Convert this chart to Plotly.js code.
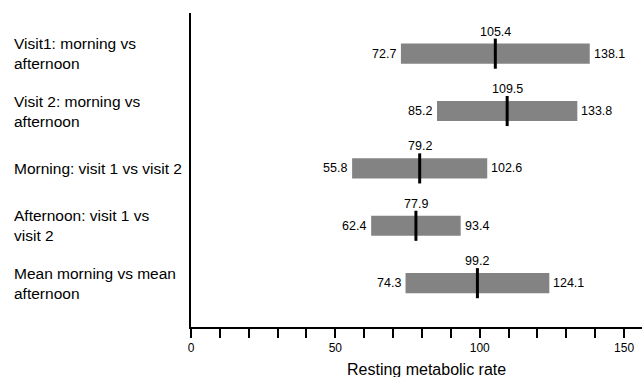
<!DOCTYPE html>
<html>
<head>
<meta charset="utf-8">
<script src="https://cdn.plot.ly/plotly-3.0.1.min.js"></script>
<style>html,body{margin:0;padding:0;background:#fff;}#chart{width:642px;height:377px;}</style>
</head>
<body>
<div id="chart"></div>
<script>
const categories = [
  "Visit1: morning vs<br>afternoon",
  "Visit 2: morning vs<br>afternoon",
  "Morning: visit 1 vs visit 2",
  "Afternoon: visit 1 vs<br>visit 2",
  "Mean morning vs mean<br>afternoon"
];
const lowValues = [72.7, 85.2, 55.8, 62.4, 74.3];
const highValues = [138.1, 133.8, 102.6, 93.4, 124.1];
const midValues = [105.4, 109.5, 79.2, 77.9, 99.2];
const xTickVals = [0, 50, 100, 150];
const xTickText = ["0", "50", "100", "150"];
const axisTitle = "Resting metabolic rate";

const FONT = "Liberation Sans, Arial, sans-serif";
const ids = categories.map((c, i) => i);

const bars = {
  type: "bar",
  orientation: "h",
  y: ids,
  x: highValues.map((h, i) => h - lowValues[i]),
  base: lowValues,
  width: 0.35,
  marker: {color: "#838383", line: {width: 0}},
  hoverinfo: "skip"
};
const mids = {
  type: "scatter",
  mode: "markers",
  y: ids,
  x: midValues,
  marker: {symbol: "line-ns", size: 21.5, line: {width: 3, color: "#000"}, color: "#000"},
  hoverinfo: "skip"
};

const annotations = [];
categories.forEach((c, i) => {
  annotations.push({xref: "paper", yref: "y", x: (12 - 191) / 451, y: i, xanchor: "left", yanchor: "middle",
    align: "left", text: c, showarrow: false, font: {family: FONT, size: 15.5, color: "#000"}});
  annotations.push({xref: "x", yref: "y", x: lowValues[i], y: i, xanchor: "right", yanchor: "middle",
    xshift: -3, text: lowValues[i].toFixed(1), showarrow: false, font: {family: FONT, size: 12.5, color: "#000"}});
  annotations.push({xref: "x", yref: "y", x: highValues[i], y: i, xanchor: "left", yanchor: "middle",
    xshift: 2, text: highValues[i].toFixed(1), showarrow: false, font: {family: FONT, size: 12.5, color: "#000"}});
  annotations.push({xref: "x", yref: "y", x: midValues[i], y: i, xanchor: "center", yanchor: "middle",
    yshift: 22, text: midValues[i].toFixed(1), showarrow: false, font: {family: FONT, size: 12.5, color: "#000"}});
});
annotations.push({xref: "paper", yref: "paper", x: (426 - 191) / 451, y: -42 / 314, xanchor: "center", yanchor: "middle",
  text: axisTitle, showarrow: false, font: {family: FONT, size: 16, color: "#000"}});

const layout = {
  width: 642, height: 377,
  margin: {l: 191, r: 0, t: 13, b: 50},
  paper_bgcolor: "#fff", plot_bgcolor: "#fff",
  showlegend: false,
  font: {family: FONT, color: "#000"},
  xaxis: {
    range: [0, 156.2], showgrid: false, zeroline: false,
    showline: true, linecolor: "#000", linewidth: 2,
    ticks: "outside", ticklen: 9, tickwidth: 2, tickcolor: "#000",
    tickvals: xTickVals, ticktext: xTickText,
    tickfont: {family: FONT, size: 12, color: "#000"},
    minor: {dtick: 10, ticks: "outside", ticklen: 9, tickwidth: 2, tickcolor: "#000", showgrid: false},
    fixedrange: true
  },
  yaxis: {
    range: [4.764, -0.7085], showgrid: false, zeroline: false,
    showline: true, linecolor: "#000", linewidth: 2,
    showticklabels: false, ticks: "", fixedrange: true
  },
  annotations: annotations
};

Plotly.newPlot("chart", [bars, mids], layout, {displayModeBar: false, staticPlot: true});
</script>
</body>
</html>
